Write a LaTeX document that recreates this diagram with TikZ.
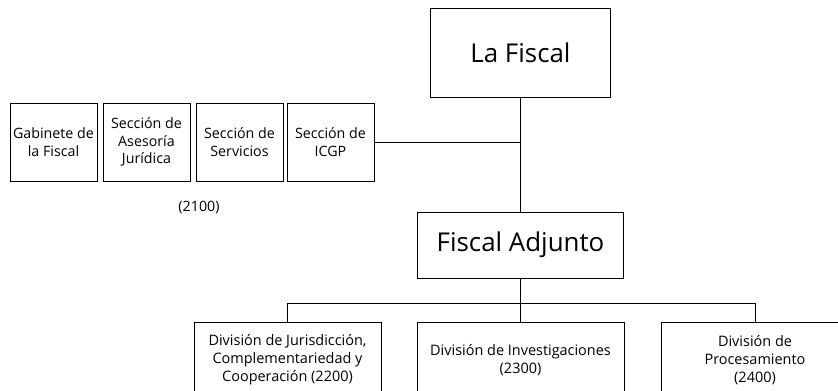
\documentclass[tikz,border=0pt]{standalone}
\usepackage{fontspec}
\setmainfont{Open Sans}
\begin{document}
\begin{tikzpicture}[x=1bp,y=-1bp,
  box/.style={draw, line width=0.8bp, inner sep=0pt, align=center},
  small/.style={box, minimum width=87bp, minimum height=78bp, font=\fontsize{14.3}{17.5}\selectfont},
  div/.style={box, minimum height=76bp, font=\fontsize{14.5}{18}\selectfont},
  conn/.style={line width=1bp}]
\clip (0,0) rectangle (838,390);
\node[box, minimum width=180bp, minimum height=89bp, font=\fontsize{26}{30}\selectfont] (lf) at (520.5,52.5) {La Fiscal};
\node[box, minimum width=206bp, minimum height=66bp, font=\fontsize{26}{30}\selectfont] (fa) at (520.5,245) {Fiscal Adjunto};
\node[small] (gab) at (53.5,142) {Gabinete de\\la Fiscal};
\node[small] (ase) at (146.5,142) {Sección de\\Asesoría\\Jurídica};
\node[small] (ser) at (239.5,142) {Sección de\\Servicios};
\node[small] (icgp) at (330.5,142) {Sección de\\ICGP};
\node[font=\fontsize{14.3}{17}\selectfont] (c2100) at (199,207) {(2100)};
\node[div, minimum width=187bp] (d1) at (287.5,360) {División de Jurisdicción,\\Complementariedad y\\Cooperación (2200)};
\node[div, minimum width=207bp] (d2) at (520.5,360) {División de Investigaciones\\(2300)};
\node[div, minimum width=187bp] (d3) at (755,360) {División de\\Procesamiento\\(2400)};
\coordinate (bus) at (520.5,303);
\draw[conn] (lf.south) -- (fa.north);
\draw[conn] (icgp.east) -- (icgp.east -| lf.south);
\draw[conn] (fa.south) -- (bus);
\draw[conn] (d1.north) -- (d1.north |- bus) -- (d3.north |- bus) -- (d3.north);
\draw[conn] (bus) -- (d2.north);
\end{tikzpicture}
\end{document}
